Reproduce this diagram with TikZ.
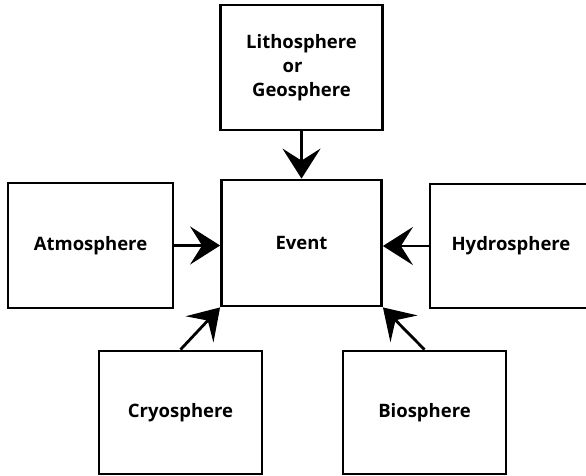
\documentclass[tikz,border=0pt]{standalone}
\usepackage{fontspec}
\setmainfont{Open Sans}
\usetikzlibrary{arrows.meta}
\tikzset{
  box/.style={draw=black, line width=2.8pt, fill=white, minimum width=#1, inner sep=0pt,
    font=\fontsize{18.5}{24}\selectfont\bfseries, text=black, align=center},
  box/.default=163pt,
  link/.style={line width=2.8pt, -{Stealth[length=30pt,width=38pt,inset=12pt]}}
}
\begin{document}
\begin{tikzpicture}[x=1pt,y=-1pt]
\useasboundingbox (0,0) rectangle (586,476);
\node[box=162pt, minimum height=125pt] (litho) at (301.5,67.5) {Lithosphere\\\mbox{or\hspace{18pt}}\\Geosphere};
\node[box=160pt, minimum height=126pt] (event) at (301.5,243) {Event};
\node[box=165pt, minimum height=125pt] (atmo) at (90.5,245.5) {Atmosphere};
\node[box=162pt, minimum height=124pt] (hydro) at (511,246) {Hydrosphere};
\node[box=163pt, minimum height=123pt] (cryo) at (180.5,412.5) {Cryosphere};
\node[box=163pt, minimum height=123pt] (bio) at (424.5,412.5) {Biosphere};
\draw[link] (litho.south) -- (event.north);
\draw[link] (atmo.east) -- (atmo.east -| event.west);
\draw[link] (hydro.west) -- (hydro.west -| event.east);
\draw[link] (cryo.north) -- (event.south west);
\draw[link] (bio.north) -- (event.south east);
\end{tikzpicture}
\end{document}
